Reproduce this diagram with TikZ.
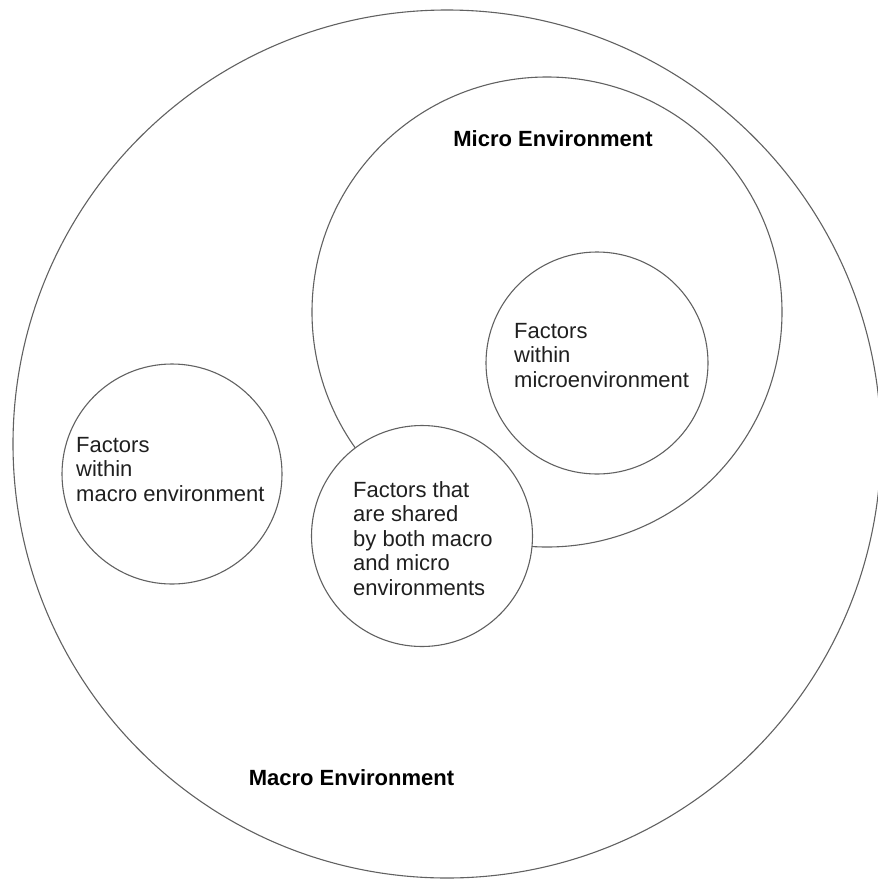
\documentclass[tikz,border=0pt]{standalone}
\usepackage{fontspec}
\setmainfont{Liberation Sans}
\begin{document}
\begin{tikzpicture}[x=1pt,y=-1pt,
  ring/.style={circle, draw=black!62, line width=1.1pt, inner sep=0pt, outer sep=0pt},
  lbl/.style={anchor=north west, inner sep=0pt, align=left, font=\fontsize{22}{24.5}\selectfont, text=black!88},
  ttl/.style={inner sep=0pt, anchor=base, font=\fontsize{22}{26}\selectfont\bfseries}]
\useasboundingbox (0,0) rectangle (878,884);
\node[ring, minimum size=868pt] (macro) at (447,444) {};
\node[ring, minimum size=470pt] (micro) at (547,312) {};
\node[ring, minimum size=222pt] (inmicro) at (597,363) {};
\node[ring, minimum size=220pt] (inmacro) at (172,474) {};
\node[ring, minimum size=221pt, fill=white] (shared) at (422,536) {};
\node[lbl] (tinmicro) at (514,323) {Factors\\within\\microenvironment};
\node[lbl] (tinmacro) at (76,437) {Factors\\within\\macro environment};
\node[lbl] (tshared) at (353,481) {Factors that\\are shared\\by both macro\\and micro\\environments};
\node[ttl] (tmicro) at (553,146) {Micro Environment};
\node[ttl] (tmacro) at (351.5,785) {Macro Environment};
\end{tikzpicture}
\end{document}
